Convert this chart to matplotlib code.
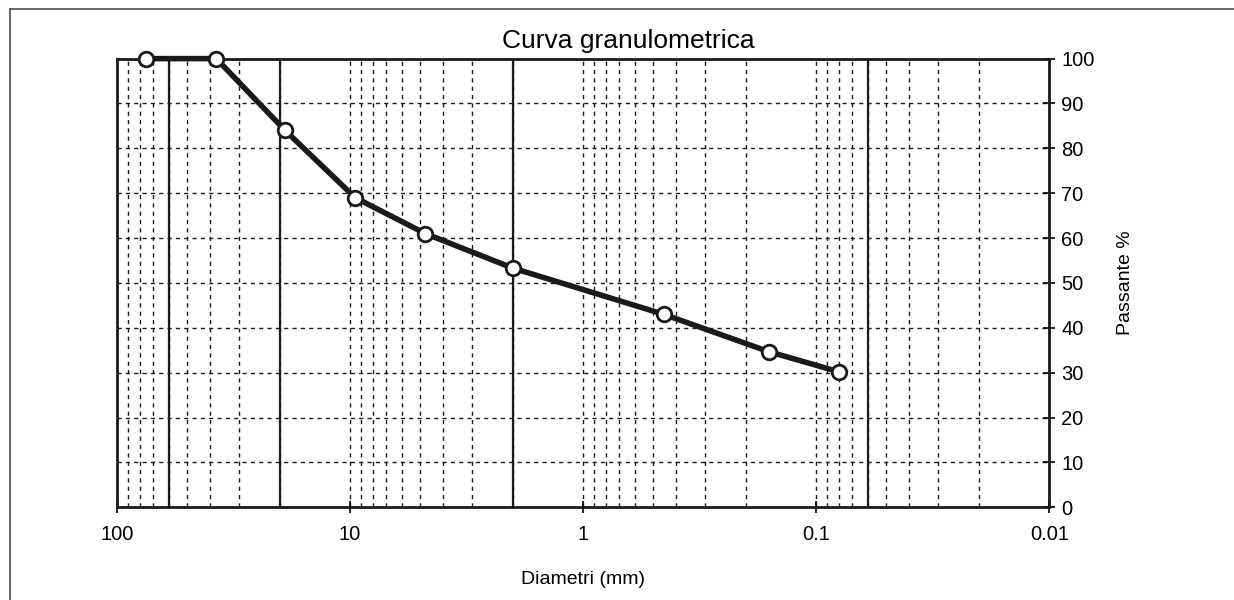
import matplotlib
matplotlib.use('Agg')
import matplotlib.pyplot as plt
import matplotlib.ticker as mticker
from matplotlib.lines import Line2D

plt.rcParams['font.family'] = ['Liberation Sans', 'DejaVu Sans']

# dati della curva granulometrica
diametri = [75, 37.5, 19, 9.5, 4.75, 2, 0.45, 0.16, 0.08]
passante = [100, 100, 84, 69, 61, 53.3, 43, 34.7, 30.2]

# limiti delle classi (ghiaia / sabbia / limo)
limiti = [60, 20, 2, 0.06]

x_ticks = [100, 10, 1, 0.1, 0.01]
y_ticks = [0, 10, 20, 30, 40, 50, 60, 70, 80, 90, 100]

fig = plt.figure(figsize=(12.34, 6.0), dpi=100)
ax = fig.add_axes([0.0948, 0.1545, 0.7555, 0.7478])

ax.set_xscale('log')
ax.set_xlim(100, 0.01)
ax.set_ylim(0, 100)

# griglia tratteggiata
ax.xaxis.set_major_locator(mticker.FixedLocator(x_ticks))
ax.xaxis.set_major_formatter(mticker.FuncFormatter(lambda v, p: '%g' % v))
ax.xaxis.set_minor_locator(mticker.LogLocator(base=10, subs=range(2, 10)))
ax.xaxis.set_minor_formatter(mticker.NullFormatter())
ax.yaxis.set_major_locator(mticker.FixedLocator(y_ticks))

ax.grid(which='major', axis='both', color='0.1', lw=1.0, ls=(0, (3, 3)))
ax.grid(which='minor', axis='x', color='0.1', lw=1.0, ls=(0, (3, 3)))

ax.tick_params(axis='x', which='major', direction='inout', length=9, width=1.2,
               labelsize=14.5, pad=8)
ax.tick_params(axis='x', which='minor', length=0)
ax.tick_params(axis='y', which='major', direction='inout', length=9, width=1.2,
               labelsize=14.5, left=False, labelleft=False, right=True,
               labelright=True, pad=4)

for s in ax.spines.values():
    s.set_linewidth(2.0)
    s.set_color('0.1')

# linee verticali dei limiti
for d in limiti:
    ax.axvline(d, color='0.1', lw=1.6, zorder=3)

ax.plot(diametri, passante, color='0.1', lw=4.0, marker='o', markersize=10.5,
        markerfacecolor='white', markeredgecolor='0.1', markeredgewidth=2,
        clip_on=False, zorder=5)

ax.set_xlabel('Diametri (mm)', fontsize=14, labelpad=20)
ax.yaxis.set_label_position('right')
ax.set_ylabel('Passante %', fontsize=14, labelpad=16)

fig.text(0.509, 0.912, 'Curva granulometrica', ha='center', va='bottom',
         fontsize=19)

# cornice esterna
fig.add_artist(Line2D([0.008, 1.0], [0.985, 0.985], color='0.3', lw=1.2,
                      transform=fig.transFigure))
fig.add_artist(Line2D([0.008, 0.008], [0.0, 0.985], color='0.3', lw=1.2,
                      transform=fig.transFigure))

fig.savefig('out.png', dpi=100)
